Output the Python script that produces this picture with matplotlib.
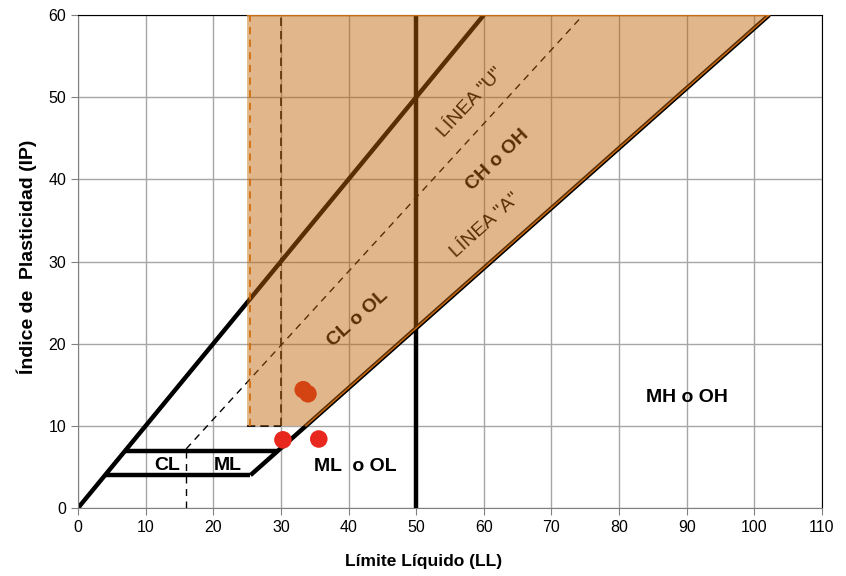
import matplotlib
matplotlib.use("Agg")
import matplotlib.pyplot as plt
import numpy as np

plt.rcParams["font.family"] = ["Liberation Sans", "DejaVu Sans"]

# lineas de la carta de plasticidad
ll_u = [0, 60]
ip_u = [0, 60]
ll_a = [25.5, 102.2]
ip_a = [4, 60]
ll_dash = [16, 74.7]
ip_dash = [7.2, 60]
ll_zone4 = [4, 25.5]
ll_zone7 = [7, 29.6]

# zona sombreada
zone_ll = [25, 33.7, 102.2, 25]
zone_ip = [10, 10, 60, 60]

# ensayos
ll_pts = [30.3, 35.6, 33.3, 34.0]
ip_pts = [8.3, 8.4, 14.4, 13.9]

fig = plt.figure(figsize=(8.46, 5.76), dpi=100)
ax = fig.add_axes([0.0922, 0.118, 0.8794, 0.856])

ax.set_xlim(0, 110)
ax.set_ylim(0, 60)
ax.set_xticks(np.arange(0, 111, 10))
ax.set_yticks(np.arange(0, 61, 10))
ax.grid(True, color="#a6a6a6", lw=1, zorder=0)
ax.set_axisbelow(True)
ax.tick_params(labelsize=11.5, labelcolor="black", length=5, color="#808080")
for s in ["top", "right"]:
    ax.spines[s].set_color("black")
for s in ["left", "bottom"]:
    ax.spines[s].set_color("#808080")

k = dict(color="black", lw=3.2, solid_capstyle="butt", zorder=2)
ax.plot(ll_u, ip_u, **k)
ax.plot(ll_a, ip_a, **k)
ax.plot([50, 50], [0, 60], **k)
ax.plot(ll_zone4, [4, 4], **k)
ax.plot(ll_zone7, [7, 7], **k)
ax.plot(ll_dash, ip_dash, color="black", lw=1, ls=(0, (5, 4)), zorder=2)
ax.plot([16, 16], [0, 7.2], color="black", lw=1, ls=(0, (5, 4)), zorder=2)
ax.plot([30, 30], [10, 60], color="black", lw=1.2, ls=(0, (5, 3)), zorder=2)
ax.plot([25, 30], [10, 10], color="black", lw=1.2, ls=(0, (5, 3)), zorder=2)

ax.scatter(ll_pts, ip_pts, s=160, color="#e8281e", zorder=3, edgecolors="none")

t = dict(color="black", zorder=2, ha="center", va="center", fontsize=14)
ax.text(58, 49.3, 'LÍNEA "U"', rotation=47, **t)
ax.text(62, 42.3, "CH o OH", fontweight="bold", rotation=44, **t)
ax.text(60.2, 34.4, 'LÍNEA "A"', rotation=42, **t)
ax.text(41.4, 23.1, "CL o OL", fontweight="bold", rotation=42, **t)
ax.text(90, 13.5, "MH o OH", fontweight="bold", **t)
ax.text(41, 5, "ML  o OL", fontweight="bold", **t)
ax.text(13.2, 5.2, "CL", fontweight="bold", **t)
ax.text(22.2, 5.2, "ML", fontweight="bold", **t)

ax.fill(zone_ll, zone_ip, facecolor="#bf6408", alpha=0.47, edgecolor="none", zorder=4)
ax.plot(zone_ll[1:3], zone_ip[1:3], color="#cc6a10", lw=1, zorder=5)
ax.plot(zone_ll[2:4], zone_ip[2:4], color="#cc6a10", lw=1, zorder=5)
ax.plot([25.4, 25.4], [10, 60], color="#d0700f", lw=1.3, ls=(0, (4, 3)), zorder=5)

ax.set_xlabel("Límite Líquido (LL)", fontsize=12.5, fontweight="bold")
ax.set_ylabel("Índice de  Plasticidad (IP)", fontsize=14, fontweight="bold")
ax.xaxis.set_label_coords(0.465, -0.094)
ax.yaxis.set_label_coords(-0.055, 0.51)

fig.savefig("out.png", dpi=100)
